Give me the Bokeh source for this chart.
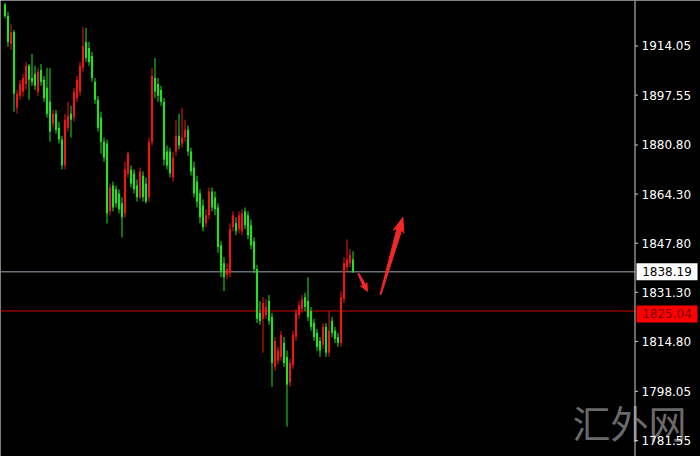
from math import hypot

from bokeh.core.properties import value
from bokeh.embed import file_html
from bokeh.models import ColumnDataSource, Label, Range1d
from bokeh.plotting import figure
from bokeh.resources import INLINE

# ---- price bars (oldest first) ----
OPEN = [1928.1, 1924.1, 1914.7, 1918.7, 1893.3, 1897.3, 1898.7, 1901.3, 1907.4, 1903.3,
        1904.7, 1898.7, 1906.0, 1902.7, 1900.0, 1895.3, 1888.0, 1891.3, 1886.6, 1882.6,
        1873.9, 1886.6, 1891.3, 1890.0, 1896.6, 1898.7, 1906.7, 1915.4, 1913.4, 1910.7,
        1902.0, 1896.0, 1890.0, 1881.9, 1881.3, 1858.5, 1867.2, 1865.9, 1864.5, 1861.2,
        1857.8, 1871.2, 1872.6, 1871.2, 1867.2, 1863.2, 1870.5, 1867.9, 1863.2, 1881.9,
        1903.3, 1901.3, 1899.3, 1895.3, 1878.6, 1878.6, 1869.9, 1878.6, 1883.9, 1881.3,
        1883.3, 1885.9, 1878.6, 1873.2, 1868.5, 1864.5, 1860.5, 1854.5, 1857.2, 1865.2,
        1863.2, 1859.8, 1847.1, 1841.1, 1837.1, 1837.8, 1853.2, 1854.5, 1852.5, 1851.8,
        1858.5, 1857.2, 1853.8, 1848.5, 1839.1, 1824.4, 1822.4, 1823.7, 1828.4, 1823.0,
        1806.3, 1808.3, 1809.6, 1814.3, 1809.6, 1801.0, 1806.9, 1816.3, 1823.7, 1825.7,
        1829.7, 1828.4, 1825.0, 1821.0, 1817.7, 1815.0, 1813.7, 1819.7, 1811.0, 1821.7,
        1818.4, 1816.3, 1814.3, 1829.0, 1839.8, 1841.1, 1842.4]
HIGH = [1928.5, 1925.4, 1921.4, 1919.4, 1899.3, 1902.7, 1904.7, 1908.7, 1908.0, 1911.4,
        1907.4, 1906.7, 1908.0, 1904.0, 1906.7, 1906.7, 1892.6, 1892.6, 1888.6, 1883.9,
        1891.3, 1895.3, 1894.0, 1900.0, 1904.0, 1908.7, 1920.4, 1920.1, 1915.4, 1912.0,
        1903.3, 1897.3, 1892.0, 1883.3, 1882.6, 1867.9, 1868.5, 1867.2, 1865.9, 1863.2,
        1875.2, 1878.6, 1873.9, 1872.6, 1869.2, 1873.2, 1871.9, 1869.9, 1883.3, 1906.7,
        1910.0, 1903.3, 1900.7, 1896.6, 1880.6, 1879.9, 1878.6, 1889.3, 1891.3, 1893.3,
        1889.3, 1887.3, 1879.9, 1875.2, 1870.5, 1865.9, 1862.5, 1859.2, 1866.5, 1866.5,
        1865.2, 1861.2, 1848.5, 1843.1, 1841.1, 1854.5, 1858.5, 1856.5, 1858.5, 1859.2,
        1859.8, 1858.5, 1855.8, 1849.8, 1840.4, 1828.4, 1829.7, 1829.0, 1830.4, 1824.4,
        1816.3, 1813.0, 1818.4, 1816.3, 1811.7, 1809.0, 1818.4, 1825.7, 1828.4, 1830.4,
        1831.1, 1836.4, 1826.4, 1822.4, 1819.0, 1816.3, 1821.0, 1821.0, 1825.0, 1823.0,
        1819.7, 1817.7, 1831.7, 1843.1, 1849.1, 1845.8, 1845.1]
LOW = [1923.4, 1913.7, 1912.7, 1892.0, 1891.3, 1896.0, 1897.0, 1899.3, 1896.0, 1900.7,
       1899.3, 1897.3, 1900.7, 1895.3, 1890.0, 1881.9, 1886.6, 1884.6, 1881.3, 1872.6,
       1872.6, 1885.3, 1883.3, 1888.6, 1895.3, 1897.3, 1905.4, 1908.7, 1907.4, 1902.0,
       1894.6, 1885.3, 1877.9, 1875.2, 1854.5, 1857.2, 1858.5, 1859.8, 1857.8, 1849.8,
       1856.5, 1869.9, 1866.5, 1864.5, 1861.8, 1862.5, 1861.8, 1861.2, 1861.8, 1880.6,
       1896.6, 1895.3, 1894.0, 1873.9, 1872.6, 1869.9, 1868.5, 1877.2, 1879.3, 1879.9,
       1881.9, 1877.2, 1870.5, 1863.2, 1859.8, 1854.5, 1851.8, 1853.2, 1855.8, 1858.5,
       1857.2, 1844.5, 1836.4, 1831.7, 1835.7, 1836.4, 1851.8, 1850.5, 1851.1, 1850.5,
       1852.5, 1849.1, 1845.8, 1837.8, 1821.0, 1820.4, 1811.0, 1822.4, 1820.4, 1799.6,
       1805.0, 1807.0, 1808.3, 1806.3, 1786.2, 1799.6, 1805.6, 1815.0, 1822.4, 1824.4,
       1825.0, 1821.7, 1818.4, 1815.0, 1811.7, 1809.6, 1812.3, 1809.6, 1809.6, 1816.3,
       1814.3, 1813.0, 1813.0, 1827.7, 1838.4, 1839.8, 1837.8]
CLOSE = [1924.1, 1915.4, 1918.7, 1898.0, 1898.0, 1901.3, 1903.3, 1907.4, 1902.7, 1902.0,
         1900.7, 1905.4, 1902.0, 1896.6, 1891.3, 1885.3, 1891.3, 1885.9, 1882.6, 1873.9,
         1889.3, 1890.6, 1889.3, 1898.7, 1902.7, 1907.4, 1914.0, 1910.0, 1908.7, 1903.3,
         1896.0, 1886.6, 1881.9, 1876.6, 1857.8, 1866.5, 1859.8, 1861.2, 1859.2, 1856.5,
         1872.6, 1877.9, 1867.9, 1865.9, 1863.2, 1871.9, 1863.2, 1861.8, 1881.9, 1904.0,
         1898.7, 1897.3, 1895.3, 1875.9, 1873.9, 1871.2, 1876.6, 1883.9, 1880.6, 1883.3,
         1885.9, 1878.6, 1871.9, 1864.5, 1861.8, 1856.5, 1853.2, 1857.2, 1865.2, 1859.8,
         1859.2, 1846.5, 1838.4, 1836.4, 1839.1, 1852.5, 1857.2, 1851.8, 1857.2, 1857.8,
         1853.8, 1850.5, 1847.1, 1839.1, 1822.4, 1821.7, 1827.7, 1826.4, 1821.7, 1807.6,
         1815.0, 1811.7, 1817.0, 1807.6, 1800.3, 1807.6, 1817.0, 1824.4, 1827.0, 1829.0,
         1826.4, 1823.0, 1819.7, 1816.3, 1813.0, 1811.7, 1819.7, 1811.0, 1818.4, 1817.7,
         1815.7, 1814.3, 1829.7, 1841.1, 1842.4, 1843.8, 1838.19]

# ---- price scale ----
TICKS = [1781.55, 1798.05, 1814.80, 1831.30, 1847.80, 1864.30, 1880.80, 1897.55, 1914.05]
BID = 1838.19      # current price line
LEVEL = 1825.04    # marked level
WATERMARK = "汇外网"

# hand-drawn arrows: (tail (bar, price), tip (bar, price))
ARROW_SMALL = ((117.8, 1837.6), (120.8, 1831.6))
ARROW_BIG = ((125.2, 1830.6), (132.6, 1856.5))

UP_COLOR = "#f01414"
DOWN_COLOR = "#1ee41e"
SCALE_COLOR = "#cfcfcf"

W, H = 700, 456
BAR_PX = 3.0                      # pixels per bar
X0 = -1.5
X1 = X0 + W / BAR_PX
Y0, Y1 = 1776.16, 1929.33
PRICE_PX = H / (Y1 - Y0)          # pixels per price unit


def px_x(px):
    """Horizontal pixel position -> bar units."""
    return X0 + px / BAR_PX


AXIS_X = px_x(634.5)              # price scale line
LABEL_X = px_x(641)               # left edge of the scale labels

p = figure(width=W, height=H, x_range=Range1d(X0, X1), y_range=Range1d(Y0, Y1),
           output_backend="svg", toolbar_location=None,
           x_axis_location=None, y_axis_location=None, min_border=0,
           background_fill_color="black", border_fill_color="black",
           outline_line_color=None)
p.grid.grid_line_color = None

# watermark sits beneath everything else
p.add_layout(Label(x=px_x(572), y=1787.9, text=WATERMARK,
                   text_font="Noto Sans CJK SC", text_font_size="38px",
                   text_color="#6a6a6a", text_align="left", text_baseline="middle",
                   level="underlay"))

# horizontal price lines, ending at the scale
p.segment(x0=[X0, X0], x1=[AXIS_X, AXIS_X], y0=[BID, LEVEL], y1=[BID, LEVEL],
          line_color=["#9ea7b2", "#d40000"], line_width=1)

# candles: rising bars red, falling bars green
idx = list(range(len(OPEN)))
colors = [UP_COLOR if c >= o else DOWN_COLOR for o, c in zip(OPEN, CLOSE)]
src = ColumnDataSource(dict(
    x=idx, high=HIGH, low=LOW,
    top=[max(o, c) for o, c in zip(OPEN, CLOSE)],
    bottom=[min(o, c) for o, c in zip(OPEN, CLOSE)],
    color=colors,
))
p.segment(x0="x", y0="low", x1="x", y1="high", line_color="color", line_width=1, source=src)
p.vbar(x="x", width=0.7, top="top", bottom="bottom", fill_color="color",
       line_color=None, source=src)


def arrow_shape(tail, tip, tail_w, neck_w, head_w, head_len):
    """Tapered arrow outline, built in pixels so it keeps its shape on both scales."""
    sx, sy = BAR_PX, PRICE_PX
    ax_, ay_ = tail[0] * sx, tail[1] * sy
    bx, by = tip[0] * sx, tip[1] * sy
    dx, dy = bx - ax_, by - ay_
    length = hypot(dx, dy)
    ux, uy = dx / length, dy / length
    nx, ny = -uy, ux
    neck = (bx - ux * head_len * 0.8, by - uy * head_len * 0.8)
    barb = (bx - ux * head_len, by - uy * head_len)
    pts = [
        (ax_ + nx * tail_w / 2, ay_ + ny * tail_w / 2),
        (neck[0] + nx * neck_w / 2, neck[1] + ny * neck_w / 2),
        (barb[0] + nx * head_w / 2, barb[1] + ny * head_w / 2),
        (bx, by),
        (barb[0] - nx * head_w / 2, barb[1] - ny * head_w / 2),
        (neck[0] - nx * neck_w / 2, neck[1] - ny * neck_w / 2),
        (ax_ - nx * tail_w / 2, ay_ - ny * tail_w / 2),
    ]
    return [q[0] / sx for q in pts], [q[1] / sy for q in pts]


for tail, tip, dims in ((ARROW_SMALL[0], ARROW_SMALL[1], (1, 3, 7, 8)),
                        (ARROW_BIG[0], ARROW_BIG[1], (1, 5, 11, 15))):
    xs, ys = arrow_shape(tail, tip, *dims)
    p.patch(xs, ys, fill_color="#f22828", line_color="#f22828", line_width=1)

# price scale: line, outward ticks and labels
p.segment(x0=[AXIS_X], x1=[AXIS_X], y0=[Y0], y1=[Y1], line_color=SCALE_COLOR, line_width=1)
p.segment(x0=[AXIS_X] * len(TICKS), x1=[AXIS_X + 3 / BAR_PX] * len(TICKS),
          y0=TICKS, y1=TICKS, line_color=SCALE_COLOR, line_width=1)
p.text(x=[LABEL_X] * len(TICKS), y=TICKS, text=[f"{t:.2f}" for t in TICKS],
       text_font=value("DejaVu Sans"), text_font_size=value("12px"),
       text_color="white", text_align="left", text_baseline="middle")

# price tags on the scale: (price, shift down in px, box colour, text colour)
TAG_LEFT, TAG_RIGHT = px_x(636), px_x(697)
for price, shift, box_color, text_color in ((BID, 0, "white", "black"),
                                            (LEVEL, 3, "#ff0000", "#7a0000")):
    centre = price - shift / PRICE_PX
    p.quad(left=[TAG_LEFT], right=[TAG_RIGHT],
           top=[centre + 8.5 / PRICE_PX], bottom=[centre - 8.5 / PRICE_PX],
           fill_color=box_color, line_color=None)
    p.text(x=[(TAG_LEFT + TAG_RIGHT) / 2], y=[centre], text=[f"{price:.2f}"],
           text_font=value("DejaVu Sans"), text_font_size=value("12px"),
           text_color=text_color, text_align="center", text_baseline="middle")

open("out.html", "w").write(file_html(p, INLINE))
